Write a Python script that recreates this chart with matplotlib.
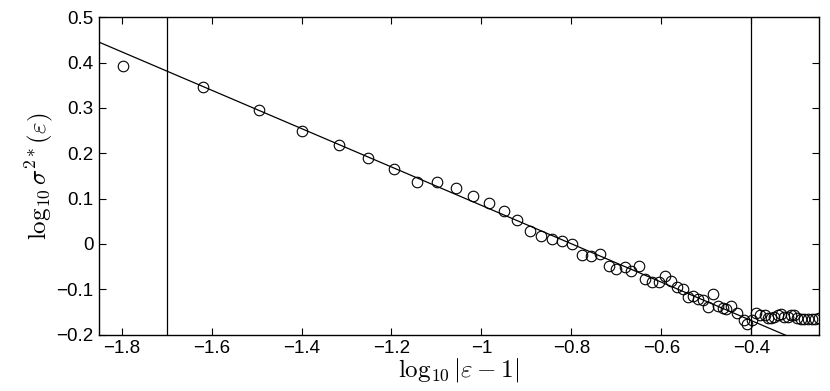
import numpy as np
import matplotlib
matplotlib.use('Agg')
import matplotlib.pyplot as plt

plt.rcParams['font.family'] = ['Liberation Sans', 'DejaVu Sans']
plt.rcParams['mathtext.fontset'] = 'cm'

# data
log_eps = [-1.796, -1.619, -1.495, -1.399, -1.317, -1.252, -1.195, -1.144, -1.098, -1.056,
           -1.019, -0.984, -0.951, -0.922, -0.893, -0.868, -0.843, -0.820, -0.798, -0.776,
           -0.756, -0.736, -0.717, -0.700, -0.682, -0.667, -0.649, -0.636, -0.620, -0.606,
           -0.593, -0.578, -0.565, -0.553, -0.542, -0.530, -0.518, -0.507, -0.497, -0.485,
           -0.474, -0.464, -0.456, -0.445, -0.432, -0.417, -0.411, -0.398, -0.390, -0.380,
           -0.371, -0.364, -0.356, -0.349, -0.342, -0.334, -0.327, -0.319, -0.312, -0.306,
           -0.299, -0.291, -0.284, -0.275, -0.266, -0.258, -0.251]
log_sigma = [0.393, 0.347, 0.296, 0.249, 0.218, 0.189, 0.165, 0.136, 0.137, 0.123,
             0.106, 0.090, 0.073, 0.053, 0.029, 0.018, 0.010, 0.006, -0.001, -0.024,
             -0.027, -0.023, -0.049, -0.055, -0.050, -0.059, -0.049, -0.078, -0.085, -0.084,
             -0.070, -0.083, -0.095, -0.100, -0.118, -0.114, -0.122, -0.124, -0.139, -0.111,
             -0.136, -0.142, -0.144, -0.137, -0.153, -0.168, -0.177, -0.168, -0.153, -0.157,
             -0.157, -0.163, -0.163, -0.161, -0.157, -0.155, -0.161, -0.161, -0.157, -0.157,
             -0.163, -0.166, -0.165, -0.165, -0.165, -0.165, -0.163]

fit_slope = -0.424
fit_intercept = -0.339
fit_range = [-1.85, -0.25]
cutoffs = [-1.7, -0.4]

fig = plt.figure(figsize=(8.3, 3.91), dpi=100)
ax = fig.add_axes([0.1193, 0.1445, 0.8674, 0.811])

xf = np.array(fit_range)
ax.plot(xf, fit_slope * xf + fit_intercept, color='k', linewidth=0.9)
for c in cutoffs:
    ax.axvline(c, color='k', linewidth=0.9)
ax.plot(log_eps, log_sigma, 'o', markerfacecolor='none', markeredgecolor='k',
        markersize=7.6, markeredgewidth=0.8)

ax.set_xlim(-1.85, -0.25)
ax.set_ylim(-0.2, 0.5)
ax.set_xticks([-1.8, -1.6, -1.4, -1.2, -1.0, -0.8, -0.6, -0.4])
ax.set_xticklabels(['\u22121.8', '\u22121.6', '\u22121.4', '\u22121.2', '\u22121',
                    '\u22120.8', '\u22120.6', '\u22120.4'])
ax.set_yticks([-0.2, -0.1, 0, 0.1, 0.2, 0.3, 0.4, 0.5])
ax.set_yticklabels(['\u22120.2', '\u22120.1', '0', '0.1', '0.2', '0.3', '0.4', '0.5'])
ax.tick_params(direction='in', top=True, right=True, length=5, width=0.8,
               labelsize=13.5, pad=4)
for s in ax.spines.values():
    s.set_linewidth(1.0)

ax.set_xlabel(r'$\log_{10}|\varepsilon - 1|$', fontsize=18, labelpad=-1)
ax.set_ylabel(r'$\log_{10}\sigma^{2*}(\varepsilon)$', fontsize=18, labelpad=1)

fig.savefig('out.png', dpi=100)
